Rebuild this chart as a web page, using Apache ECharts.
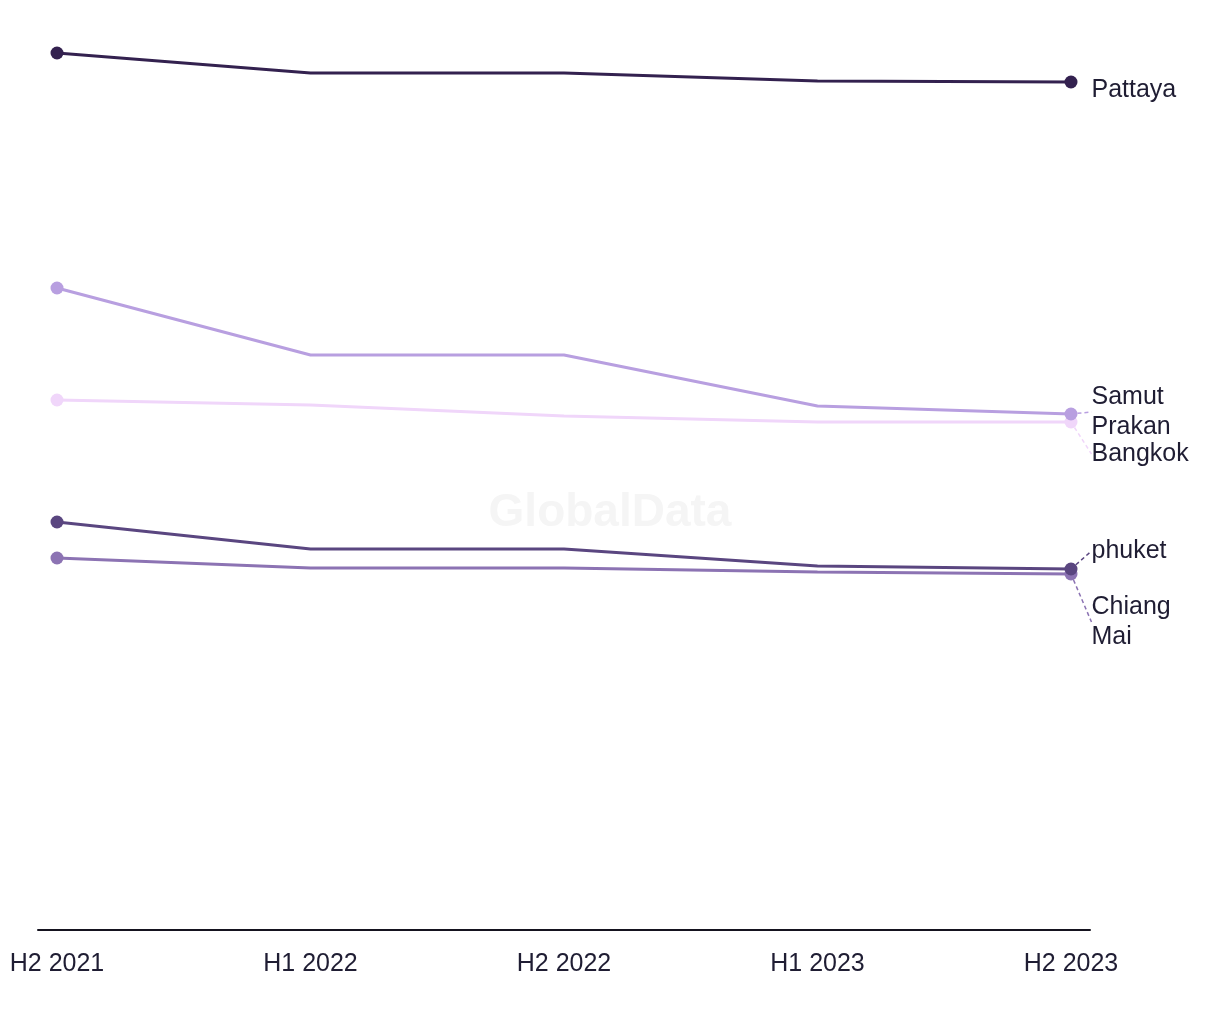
<!DOCTYPE html>
<html>
<head>
<meta charset="utf-8">
<script src="https://cdn.jsdelivr.net/npm/echarts@6/dist/echarts.min.js"></script>
<style>html,body{margin:0;padding:0;background:#fff;}#c{width:1220px;height:1020px;}</style>
</head>
<body>
<div id="c"></div>
<script>
const categories = ['H2 2021', 'H1 2022', 'H2 2022', 'H1 2023', 'H2 2023'];
const pattaya = [877, 857, 857, 849, 848];
const samutPrakan = [642, 575, 575, 524, 516];
const bangkok = [530, 525, 514, 508, 508];
const phuket = [408, 381, 381, 364, 361];
const chiangMai = [372, 362, 362, 358, 356];

const FONT = '"Liberation Sans", Arial, sans-serif';
const TXT = '#1f1d33';

function mk(name, label, values, color, dy, leader, z) {
  const last = values.length - 1;
  return {
    name: name,
    type: 'line',
    z: z,
    data: values.map((v, i) => {
      const d = { value: [i, v] };
      if (i !== 0 && i !== last) d.symbol = 'none';
      if (i === last) {
        d.label = {
          show: true, position: 'right', distance: 14,
          formatter: label, color: TXT, fontSize: 25, lineHeight: 30, fontFamily: FONT
        };
        d.labelLine = { show: leader, lineStyle: { color: color, type: [4, 3], width: 1.5 } };
      }
      return d;
    }),
    color: color,
    lineStyle: { width: 3, color: color },
    itemStyle: { color: color },
    symbol: 'circle',
    symbolSize: 13,
    showAllSymbol: true,
    label: { show: false },
    labelLine: { show: false },
    labelLayout: function (p) {
      const out = { dy: dy };
      if (leader && p.rect && p.labelRect) {
        const cx = p.rect.x + p.rect.width / 2;
        const cy = p.rect.y + p.rect.height / 2;
        const top = p.labelRect.y + dy;
        const ex = p.labelRect.x - 7;
        const up = (top + p.labelRect.height / 2) < cy;
        const ey = up ? top + 6 : top + 12;
        const ang = Math.atan2(ey - cy, ex - cx);
        const sx = cx + Math.cos(ang) * 4, sy = cy + Math.sin(ang) * 4;
        out.labelLinePoints = [[sx, sy], [(sx + ex) / 2, (sy + ey) / 2], [ex, ey]];
      }
      return out;
    },
    emphasis: { disabled: true },
    animation: false
  };
}

const chart = echarts.init(document.getElementById('c'));
chart.setOption({
  backgroundColor: '#ffffff',
  animation: false,
  graphic: [{
    type: 'text', left: 'center', top: 490, z: 0,
    style: { text: 'GlobalData', fontSize: 46, fontWeight: 'bold', fill: '#f5f5f5', fontFamily: FONT }
  }],
  grid: { left: 38, right: 130, top: 30, bottom: 90 },
  xAxis: {
    type: 'value', min: -0.075, max: 4.075,
    splitLine: { show: false },
    axisTick: { show: false },
    axisLine: { show: true, lineStyle: { color: '#15131f', width: 2 } },
    axisLabel: {
      customValues: [0, 1, 2, 3, 4],
      formatter: v => categories[Math.round(v)],
      color: TXT, fontSize: 25, fontFamily: FONT, margin: 22, showMinLabel: true, showMaxLabel: true
    }
  },
  yAxis: {
    type: 'value', min: 0, max: 900,
    show: false, splitLine: { show: false }
  },
  series: [
    mk('Pattaya', 'Pattaya', pattaya, '#33214f', 8, false, 5),
    mk('Samut Prakan', 'Samut\nPrakan', samutPrakan, '#b89fe0', -2, true, 4),
    mk('Bangkok', 'Bangkok', bangkok, '#f0d6fa', 32, true, 3),
    mk('phuket', 'phuket', phuket, '#5a4680', -18, true, 5),
    mk('Chiang Mai', 'Chiang\nMai', chiangMai, '#8c73b3', 48, true, 4)
  ]
});
</script>
</body>
</html>
